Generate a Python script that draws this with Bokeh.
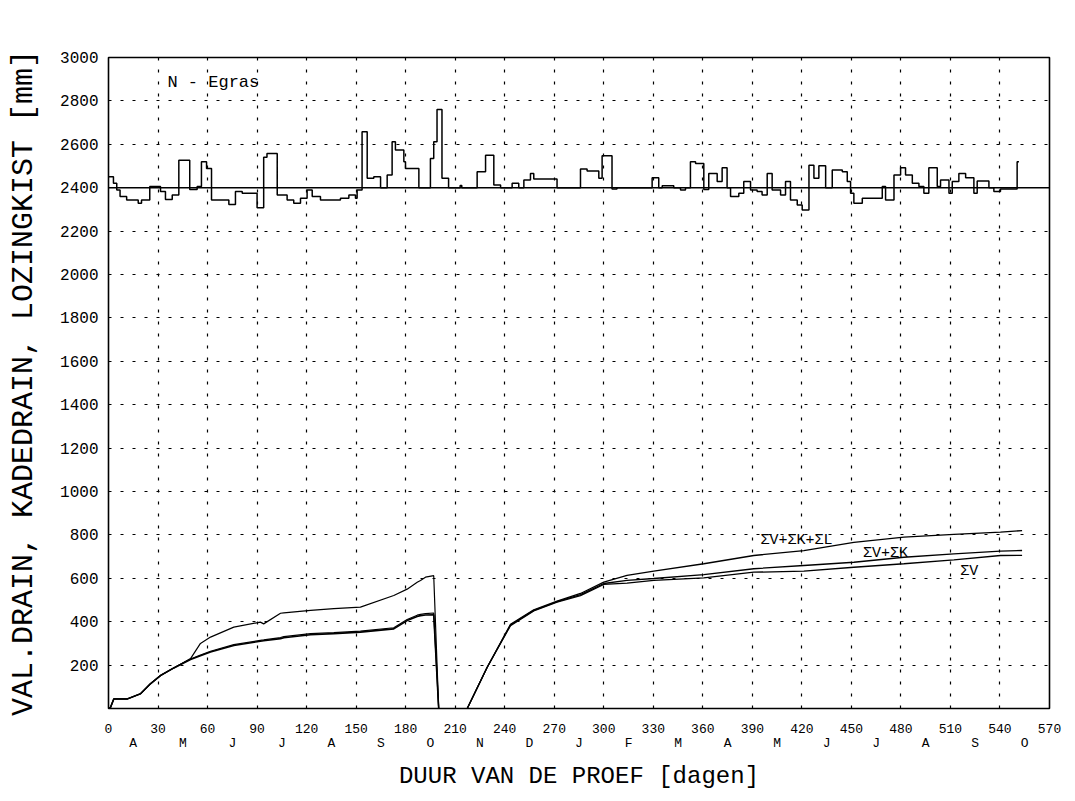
from bokeh.plotting import figure
from bokeh.models import Range1d, FixedTicker, LinearAxis
from bokeh.core.properties import value
from bokeh.embed import file_html
from bokeh.resources import INLINE

# ---------------- data ----------------
x_ticks = list(range(0, 571, 30))
y_ticks = list(range(200, 3001, 200))
month_pos = list(range(15, 570, 30))
month_labels = ["A", "M", "J", "J", "A", "S", "O", "N", "D", "J",
                "F", "M", "A", "M", "J", "J", "A", "S", "O"]

# lozingkist balance (step series around 2400)
bal_days = [0, 3, 5, 7, 11, 18, 20, 25, 31.5, 34.5, 38.6, 42.6, 49.2, 53.7, 56.3,
            59.4, 62.4, 72.9, 76.9, 81, 90, 94, 96, 102.2, 108.2, 112.2, 116.3,
            120.3, 123.4, 128.4, 140.5, 145.6, 149.6, 150.6, 153.6, 156.7, 160.7,
            164.8, 168.8, 171.8, 173.8, 178.9, 179.9, 188, 195, 197, 199, 202, 206,
            213, 214, 223.3, 228.4, 233.4, 237.5, 244.5, 248.5, 251.6, 255.6, 257.6,
            271.7, 285.9, 289.9, 297, 299, 305, 308, 329.3, 333.3, 335.4, 342.4,
            346.5, 349.5, 352.5, 355.6, 360.6, 363.6, 368.7, 371.7, 374.7, 376.8,
            381.8, 384.8, 388.9, 392.9, 395.9, 399, 402, 407.1, 410.1, 413.1, 417.2,
            420.2, 424.3, 427.3, 430.3, 434.4, 438.4, 444.5, 447.5, 449.5, 451.5,
            456.6, 468.7, 470.7, 475.8, 479.8, 482.8, 486.9, 490.9, 493.9, 496.9,
            502, 504, 509.1, 511.1, 515.1, 519.2, 524.2, 526.2, 533.3, 536.3, 540.3,
            550.4, 551.5]
bal_vals = [2451, 2420, 2389, 2359, 2343, 2328, 2343, 2405, 2382, 2346, 2366, 2527,
            2392, 2405, 2520, 2489, 2343, 2323, 2382, 2374, 2308, 2540, 2558, 2366,
            2343, 2328, 2351, 2389, 2359, 2343, 2351, 2366, 2351, 2389, 2658, 2443,
            2451, 2400, 2458, 2612, 2574, 2520, 2489, 2400, 2535, 2612, 2760, 2443,
            2400, 2410, 2400, 2474, 2550, 2412, 2400, 2420, 2400, 2435, 2466, 2440,
            2400, 2486, 2477, 2443, 2547, 2394, 2400, 2446, 2400, 2409, 2400, 2389,
            2400, 2520, 2512, 2392, 2466, 2428, 2492, 2400, 2359, 2374, 2428, 2389,
            2382, 2366, 2466, 2389, 2366, 2428, 2343, 2320, 2297, 2504, 2443, 2501,
            2400, 2481, 2474, 2428, 2374, 2328, 2351, 2405, 2343, 2458, 2492, 2458,
            2420, 2405, 2374, 2492, 2405, 2435, 2374, 2428, 2466, 2446, 2374, 2431,
            2400, 2382, 2394, 2520, 2520]
bal_ref_x = [0, 570]
bal_ref_y = [2400, 2400]

# cumulative drainage, first period
p1_days = [0, 1.2, 3.2, 11.3, 19.4, 25.4, 31.5, 39.6, 49.7, 55.7, 61.8, 75.9, 92,
           94, 104.2, 106.2, 122.4, 136.5, 152.6, 172.8, 180.9, 187, 189, 192, 197, 200]
p1_sv = [0, 5, 44, 44, 68, 114, 152, 187, 226, 243, 260, 290, 310, 312, 322, 326,
         340, 345, 352, 367, 405, 424, 428, 431, 432, 0]
p1_svk = [0, 5, 44, 44, 68, 114, 152, 188, 228, 246, 264, 294, 314, 316, 327, 331,
          345, 350, 357, 372, 410, 430, 434, 437, 440, 0]
p1_svkl = [0, 5, 44, 44, 68, 114, 152, 187, 230, 300, 329, 375, 398, 390, 439, 441,
           452, 460, 467, 521, 550, 582, 590, 605, 612, 0]

# cumulative drainage, second period
p2_days = [217.3, 229.4, 243.5, 257.6, 271.7, 285.9, 300, 314.1, 330.3, 360.6,
           390.9, 421.2, 451.5, 481.8, 512.1, 540.3, 553.4]
p2_sv = [0, 190, 382, 450, 490, 520, 572, 578, 590, 602, 628, 633, 651, 667, 685, 705, 706]
p2_svk = [0, 190, 385, 452, 492, 525, 576, 590, 599, 617, 644, 659, 674, 697, 713, 725, 728]
p2_svkl = [0, 190, 388, 455, 495, 530, 582, 613, 633, 667, 705, 728, 766, 790, 802, 813, 820]

curve_labels = ["\u03a3V+\u03a3K+\u03a3L", "\u03a3V+\u03a3K", "\u03a3V"]

# ---------------- figure ----------------
FONT = "Liberation Mono"

p = figure(width=1075, height=801, x_range=Range1d(0, 570), y_range=Range1d(0, 3000),
           output_backend="svg", toolbar_location=None,
           min_border_left=108, min_border_right=26, min_border_top=57,
           min_border_bottom=93)
p.background_fill_color = "white"
p.border_fill_color = "white"
p.outline_line_color = "black"
p.outline_line_width = 1.6
p.outline_line_alpha = 1.0

# x axis with day numbers
xa = p.xaxis[0]
xa.ticker = FixedTicker(ticks=x_ticks)
xa.axis_line_color = None
xa.major_tick_out = 0
xa.major_tick_in = 0
xa.minor_tick_out = 0
xa.minor_tick_in = 0
xa.major_label_text_font = FONT
xa.major_label_text_font_size = "13px"
xa.major_label_text_color = "black"
xa.major_label_standoff = 15

# month axis
ma = LinearAxis(ticker=FixedTicker(ticks=month_pos),
                major_label_overrides={float(m): lab for m, lab in zip(month_pos, month_labels)})
ma.axis_line_color = None
ma.major_tick_out = 0
ma.major_tick_in = 0
ma.minor_tick_out = 0
ma.minor_tick_in = 0
ma.major_label_text_font = FONT
ma.major_label_text_font_size = "13px"
ma.major_label_text_color = "black"
ma.major_label_standoff = 0
ma.axis_label = "DUUR VAN DE PROEF [dagen]"
ma.axis_label_text_font = FONT
ma.axis_label_text_font_size = "24px"
ma.axis_label_text_font_style = "normal"
ma.axis_label_text_color = "black"
ma.axis_label_standoff = 9
p.add_layout(ma, "below")

# y axis
ya = p.yaxis[0]
ya.ticker = FixedTicker(ticks=y_ticks)
ya.axis_line_color = None
ya.major_tick_out = 0
ya.major_tick_in = 0
ya.minor_tick_out = 0
ya.minor_tick_in = 0
ya.major_label_text_font = FONT
ya.major_label_text_font_size = "16px"
ya.major_label_text_color = "black"
ya.major_label_standoff = 10
ya.axis_label = "VAL.DRAIN, KADEDRAIN, LOZINGKIST [mm]"
ya.axis_label_text_font = FONT
ya.axis_label_text_font_size = "30px"
ya.axis_label_text_font_style = "normal"
ya.axis_label_text_color = "black"
ya.axis_label_standoff = 16

# grids
p.xgrid.ticker = FixedTicker(ticks=x_ticks[1:-1])
p.ygrid.ticker = FixedTicker(ticks=y_ticks[:-1])
for g in (p.xgrid[0], p.ygrid[0]):
    g.grid_line_color = "black"
    g.grid_line_dash = "3 9"
    g.grid_line_width = 1.2
    g.grid_line_alpha = 1.0

# balance series
p.line(bal_ref_x, bal_ref_y, line_color="black", line_width=1.6)
p.step(bal_days, bal_vals, mode="after", line_color="black", line_width=1.5)

# cumulative curves
p.line(p1_days, p1_sv, line_color="black", line_width=1.6)
p.line(p1_days, p1_svk, line_color="black", line_width=1.2)
p.line(p1_days, p1_svkl, line_color="black", line_width=1.2)
p.line(p2_days, p2_sv, line_color="black", line_width=1.3)
p.line(p2_days, p2_svk, line_color="black", line_width=1.3)
p.line(p2_days, p2_svkl, line_color="black", line_width=1.3)

# annotations
p.text(x=[35.7], y=[2885], text=["N - Egras"], text_font=value(FONT),
       text_font_size="17px", text_baseline="middle", text_color="black")
p.text(x=[395, 457, 516], y=[774, 716, 633], text=curve_labels, text_font=value(FONT),
       text_font_size="15px", text_baseline="middle", text_color="black")

open("out.html", "w").write(file_html(p, INLINE))
